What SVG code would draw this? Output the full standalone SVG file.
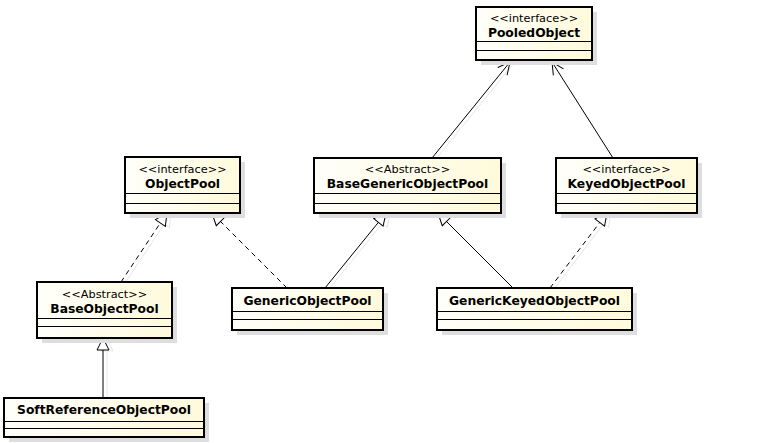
<svg xmlns="http://www.w3.org/2000/svg" width="773" height="443" viewBox="0 0 773 443">
<defs>
<linearGradient id="fill" x1="0" y1="0" x2="1" y2="0">
<stop offset="0" stop-color="#fffffa"/>
<stop offset="1" stop-color="#fffadb"/>
</linearGradient>
<marker id="tri" markerUnits="userSpaceOnUse" markerWidth="16" markerHeight="16" refX="13" refY="7" orient="auto" viewBox="0 0 16 16">
<path d="M1,1 L13,7 L1,13 Z" fill="#fff" stroke="#000" stroke-width="1" stroke-dasharray="none"/>
</marker>
<marker id="open" markerUnits="userSpaceOnUse" markerWidth="16" markerHeight="16" refX="13" refY="7" orient="auto" viewBox="0 0 16 16">
<path d="M1,1 L13,7 L1,13" fill="none" stroke="#000" stroke-width="1"/>
</marker>
<marker id="trish" markerUnits="userSpaceOnUse" markerWidth="16" markerHeight="16" refX="13" refY="7" orient="auto" viewBox="0 0 16 16">
<path d="M1,1 L13,7 L1,13 Z" fill="none" stroke="#e6e6e6" stroke-width="1"/>
</marker>
</defs>
<style>
.box{fill:url(#fill);stroke:#000;stroke-width:2}
.shadow{fill:#dedede}
.sep{stroke:#000;stroke-width:1}
.st{font-family:"DejaVu Sans",sans-serif;font-size:11.3px;text-anchor:middle;fill:#000}
.nm{font-family:"DejaVu Sans",sans-serif;font-size:12.3px;font-weight:bold;text-anchor:middle;fill:#000}
.ln{stroke:#000;stroke-width:1;fill:none}
.dash{stroke-dasharray:5,4}
.sh{stroke:#e6e6e6;stroke-width:1;fill:none}
</style>
<g id="connectors">
<g id="connector-shadows" transform="translate(4,1)">
<line class="sh" x1="432" y1="158" x2="510" y2="62"/>
<line class="sh" x1="121" y1="282" x2="167" y2="213" marker-end="url(#trish)"/>
<line class="sh" x1="325" y1="288" x2="386" y2="213" marker-end="url(#trish)"/>
<line class="sh" x1="550" y1="288" x2="607" y2="213" marker-end="url(#trish)"/>
<line class="sh" x1="103" y1="398" x2="103" y2="338" marker-end="url(#trish)"/>
</g>
<line class="ln" x1="432" y1="158" x2="510" y2="62" marker-end="url(#open)"/>
<line class="ln" x1="613" y1="158" x2="552" y2="62" marker-end="url(#open)"/>
<line class="ln dash" x1="121" y1="282" x2="167" y2="213" marker-end="url(#tri)"/>
<line class="ln dash" x1="287" y1="288" x2="212" y2="213" marker-end="url(#tri)"/>
<line class="ln" x1="325" y1="288" x2="386" y2="213" marker-end="url(#tri)"/>
<line class="ln" x1="513" y1="288" x2="438" y2="213" marker-end="url(#tri)"/>
<line class="ln dash" x1="550" y1="288" x2="607" y2="213" marker-end="url(#tri)"/>
<line class="ln" x1="103" y1="398" x2="103" y2="338" marker-end="url(#tri)"/>
</g>
<g id="PooledObject">
<rect class="shadow" x="481" y="12" width="116" height="53"/>
<rect class="box" x="476" y="7" width="116" height="53"/>
<text class="st" x="534" y="22">&lt;&lt;interface&gt;&gt;</text>
<text class="nm" x="534" y="37">PooledObject</text>
<line class="sep" x1="476" y1="41.5" x2="592" y2="41.5"/>
<line class="sep" x1="476" y1="50.5" x2="592" y2="50.5"/>
</g>
<g id="ObjectPool">
<rect class="shadow" x="130" y="162" width="115" height="56"/>
<rect class="box" x="125" y="157" width="115" height="56"/>
<text class="st" x="182.5" y="173">&lt;&lt;interface&gt;&gt;</text>
<text class="nm" x="182.5" y="188">ObjectPool</text>
<line class="sep" x1="125" y1="193.5" x2="240" y2="193.5"/>
<line class="sep" x1="125" y1="203.5" x2="240" y2="203.5"/>
</g>
<g id="BaseGenericObjectPool">
<rect class="shadow" x="319" y="163" width="187" height="55"/>
<rect class="box" x="314" y="158" width="187" height="55"/>
<text class="st" x="407.5" y="173">&lt;&lt;Abstract&gt;&gt;</text>
<text class="nm" x="407.5" y="188">BaseGenericObjectPool</text>
<line class="sep" x1="314" y1="193.5" x2="501" y2="193.5"/>
<line class="sep" x1="314" y1="203.5" x2="501" y2="203.5"/>
</g>
<g id="KeyedObjectPool">
<rect class="shadow" x="561" y="163" width="141" height="55"/>
<rect class="box" x="556" y="158" width="141" height="55"/>
<text class="st" x="626.5" y="173">&lt;&lt;interface&gt;&gt;</text>
<text class="nm" x="626.5" y="188">KeyedObjectPool</text>
<line class="sep" x1="556" y1="193.5" x2="697" y2="193.5"/>
<line class="sep" x1="556" y1="203.5" x2="697" y2="203.5"/>
</g>
<g id="BaseObjectPool">
<rect class="shadow" x="42" y="287" width="135" height="56"/>
<rect class="box" x="37" y="282" width="135" height="56"/>
<text class="st" x="104.5" y="298">&lt;&lt;Abstract&gt;&gt;</text>
<text class="nm" x="104.5" y="313">BaseObjectPool</text>
<line class="sep" x1="37" y1="318.5" x2="172" y2="318.5"/>
<line class="sep" x1="37" y1="326.5" x2="172" y2="326.5"/>
</g>
<g id="GenericObjectPool">
<rect class="shadow" x="237" y="293" width="151" height="42"/>
<rect class="box" x="232" y="288" width="151" height="42"/>
<text class="nm" x="307.5" y="305">GenericObjectPool</text>
<line class="sep" x1="232" y1="311.5" x2="383" y2="311.5"/>
<line class="sep" x1="232" y1="319.5" x2="383" y2="319.5"/>
</g>
<g id="GenericKeyedObjectPool">
<rect class="shadow" x="442" y="293" width="195" height="42"/>
<rect class="box" x="437" y="288" width="195" height="42"/>
<text class="nm" x="534.5" y="305">GenericKeyedObjectPool</text>
<line class="sep" x1="437" y1="311.5" x2="632" y2="311.5"/>
<line class="sep" x1="437" y1="319.5" x2="632" y2="319.5"/>
</g>
<g id="SoftReferenceObjectPool">
<rect class="shadow" x="9" y="403" width="200" height="39"/>
<rect class="box" x="4" y="398" width="200" height="39"/>
<text class="nm" x="104" y="414">SoftReferenceObjectPool</text>
<line class="sep" x1="4" y1="421.5" x2="204" y2="421.5"/>
<line class="sep" x1="4" y1="428.5" x2="204" y2="428.5"/>
</g>
</svg>
